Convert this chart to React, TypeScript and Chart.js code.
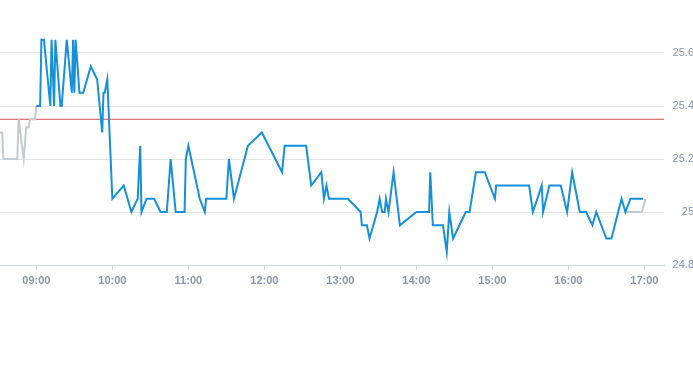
import React, { useEffect, useRef } from "react";
import { Chart, registerables } from "chart.js";

Chart.register(...registerables);

// ---- data ----
const preTimes = ["08:30", "08:33", "08:34", "08:45", "08:46", "08:50", "08:52", "08:54", "08:55", "08:59", "09:00"];
const preValues = [25.3, 25.3, 25.2, 25.2, 25.35, 25.2, 25.32, 25.32, 25.35, 25.35, 25.4];

const sessionTimes = [
  "09:00", "09:03", "09:04", "09:06", "09:11", "09:12", "09:14", "09:15", "09:19", "09:20",
  "09:24", "09:28", "09:29", "09:30", "09:31", "09:34", "09:37", "09:43", "09:48", "09:52",
  "09:53", "09:54", "09:56", "10:00", "10:09", "10:15", "10:20", "10:22", "10:23", "10:27",
  "10:33", "10:38", "10:43", "10:46", "10:50", "10:57", "10:58", "11:00", "11:09", "11:13",
  "11:14", "11:30", "11:32", "11:36", "11:47", "11:58", "12:14", "12:16", "12:33", "12:37",
  "12:45", "12:47", "12:49", "12:51", "13:06", "13:16", "13:17", "13:21", "13:23", "13:29",
  "13:31", "13:33", "13:35", "13:36", "13:38", "13:42", "13:47", "14:00", "14:10", "14:11",
  "14:13", "14:21", "14:24", "14:26", "14:29", "14:39", "14:42", "14:47", "14:54", "15:02",
  "15:03", "15:29", "15:32", "15:39", "15:40", "15:45", "15:54", "15:59", "16:03", "16:09",
  "16:14", "16:19", "16:22", "16:30", "16:34", "16:42", "16:45", "16:49", "16:59",
];
const sessionValues = [
  25.4, 25.4, 25.65, 25.65, 25.4, 25.65, 25.4, 25.65, 25.4, 25.4,
  25.65, 25.45, 25.65, 25.45, 25.65, 25.45, 25.45, 25.55, 25.5, 25.3,
  25.45, 25.45, 25.5, 25.05, 25.1, 25.0, 25.05, 25.25, 25.0, 25.05,
  25.05, 25.0, 25.0, 25.2, 25.0, 25.0, 25.2, 25.25, 25.05, 25.0,
  25.05, 25.05, 25.2, 25.05, 25.25, 25.3, 25.15, 25.25, 25.25, 25.1,
  25.15, 25.05, 25.1, 25.05, 25.05, 25.0, 24.95, 24.95, 24.9, 25.0,
  25.05, 25.0, 25.0, 25.05, 25.0, 25.15, 24.95, 25.0, 25.0, 25.15,
  24.95, 24.95, 24.85, 25.0, 24.9, 25.0, 25.0, 25.15, 25.15, 25.05,
  25.1, 25.1, 25.0, 25.1, 25.0, 25.1, 25.1, 25.0, 25.15, 25.0,
  25.0, 24.95, 25.0, 24.9, 24.9, 25.05, 25.0, 25.05, 25.05,
];

const postTimes = ["16:45", "16:58", "17:01"];
const postValues = [25.0, 25.0, 25.05];

const prevClose = 25.35;

const xTickLabels = ["09:00", "10:00", "11:00", "12:00", "13:00", "14:00", "15:00", "16:00", "17:00"];
const yTickValues = [24.8, 25, 25.2, 25.4, 25.6];

// ---- helpers ----
const toMin = (t: string) => {
  const [h, m] = t.split(":").map(Number);
  return h * 60 + m;
};
const fmt = (v: number) => {
  const h = Math.floor(v / 60);
  const m = Math.round(v - h * 60);
  return String(h).padStart(2, "0") + ":" + String(m).padStart(2, "0");
};
const pts = (times: string[], values: number[]) => times.map((t, i) => ({ x: toMin(t), y: values[i] }));

const X_MIN = 511.3;
const X_MAX = 1035.5;
const CANVAS_W = 694;
const CANVAS_H = 365;
const CHART_RIGHT = 664;
const CHART_BOTTOM = 265;

export default function App() {
  const ref = useRef<HTMLCanvasElement | null>(null);

  useEffect(() => {
    if (!ref.current) return;
    const chart = new Chart(ref.current, {
      type: "line",
      data: {
        datasets: [
          {
            data: pts(sessionTimes, sessionValues),
            borderColor: "#1790dc",
            borderWidth: 2,
            pointRadius: 0,
            tension: 0,
            order: 0,
          },
          {
            data: pts(preTimes, preValues),
            borderColor: "#c3cad3",
            borderWidth: 2,
            pointRadius: 0,
            tension: 0,
            order: 1,
          },
          {
            data: pts(postTimes, postValues),
            borderColor: "#c3cad3",
            borderWidth: 2,
            pointRadius: 0,
            tension: 0,
            order: 1,
          },
          {
            data: [
              { x: X_MIN, y: prevClose },
              { x: X_MAX, y: prevClose },
            ],
            borderColor: "#d24a4a",
            borderWidth: 1,
            pointRadius: 0,
            order: 2,
          },
        ],
      },
      options: {
        responsive: false,
        animation: false,
        events: [],
        layout: { padding: 0 },
        plugins: { legend: { display: false }, tooltip: { enabled: false } },
        scales: {
          x: {
            type: "linear",
            min: X_MIN,
            max: X_MAX,
            afterBuildTicks: (s: any) => {
              s.ticks = xTickLabels.map((t) => ({ value: toMin(t) }));
            },
            afterFit: (s: any) => {
              s.height = CANVAS_H - CHART_BOTTOM;
              s.paddingLeft = 0;
              s.paddingRight = 0;
            },
            ticks: {
              autoSkip: false,
              maxRotation: 0,
              padding: 4,
              color: "#8c97a6",
              font: { family: "'Liberation Sans', Arial, sans-serif", size: 11, weight: "bold" },
              callback: (v: any) => fmt(Number(v)),
            },
            grid: {
              drawOnChartArea: false,
              drawTicks: true,
              tickLength: 5,
              color: "#ccd6eb",
            },
            border: { display: true, color: "#ccd6eb", width: 1 },
          },
          y: {
            position: "right",
            min: 24.8,
            max: 25.8,
            afterBuildTicks: (s: any) => {
              s.ticks = yTickValues.map((v) => ({ value: v }));
            },
            afterFit: (s: any) => {
              s.width = CANVAS_W - CHART_RIGHT;
              s.paddingTop = 0;
              s.paddingBottom = 0;
            },
            ticks: {
              crossAlign: "far",
              padding: 9,
              color: "#8c97a6",
              font: { family: "'Liberation Sans', Arial, sans-serif", size: 11 },
              callback: (v: any) => String(Number(Number(v).toFixed(2))),
            },
            grid: {
              color: "#e6e6e6",
              drawTicks: false,
              tickLength: 0,
            },
            border: { display: false },
          },
        },
      },
    } as any);
    return () => chart.destroy();
  }, []);

  return (
    <div
      style={{
        position: "absolute",
        left: 0,
        top: 0,
        width: 693,
        height: 365,
        overflow: "hidden",
        background: "#fff",
      }}
    >
      <canvas ref={ref} width={CANVAS_W} height={CANVAS_H} style={{ display: "block", width: CANVAS_W, height: CANVAS_H }} />
    </div>
  );
}
